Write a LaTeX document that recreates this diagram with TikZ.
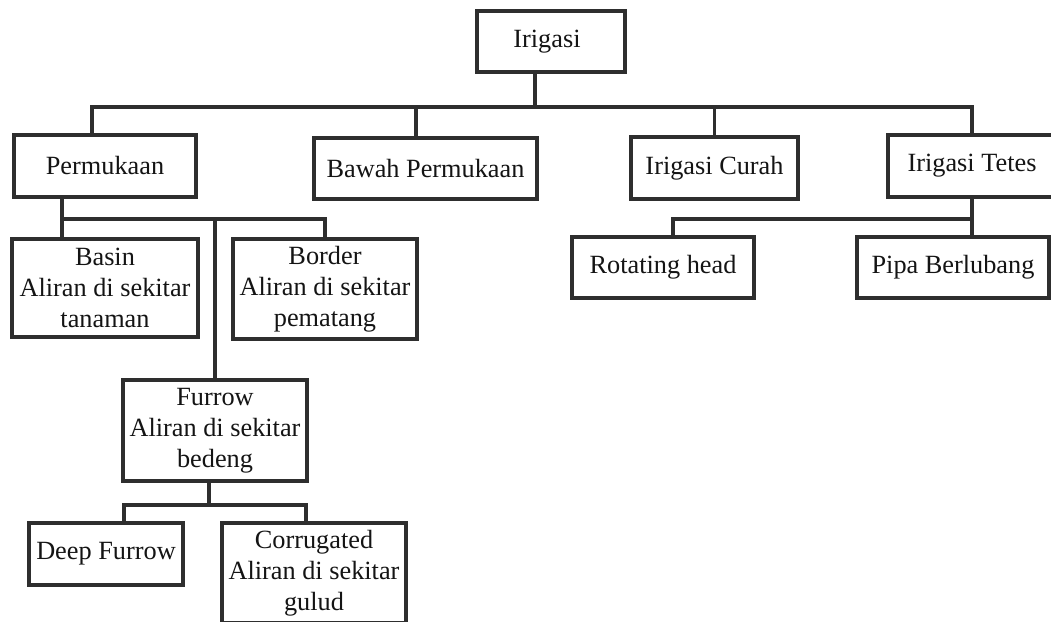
\documentclass[tikz,border=0pt]{standalone}
\usepackage{fontspec}
\setmainfont{Liberation Serif}
\tikzset{
  box/.style={draw=black!82, line width=3.2pt, inner sep=0pt, align=center,
    font=\fontsize{26.3}{31}\selectfont, text=black!92},
  link/.style={draw=black!82, line width=3.2pt, line join=miter}
}
\begin{document}
\begin{tikzpicture}[x=1pt,y=-1pt]
\useasboundingbox (0,0) rectangle (1051,621);
\fill[white] (0,0) rectangle (1051,621);
% level 0
\node[box, minimum width=148pt, minimum height=61pt] (irig) at (551,41.5) {Irigasi\hspace{8pt}};
% level 1
\node[box, minimum width=182pt, minimum height=62pt] (perm) at (105,166) {Permukaan};
\node[box, minimum width=223pt, minimum height=61pt] (bawah) at (425.5,168.5) {Bawah Permukaan};
\node[box, minimum width=167pt, minimum height=62pt] (curah) at (714.5,168) {Irigasi Curah};
\node[box, minimum width=168pt, minimum height=62pt] (tetes) at (972,166) {Irigasi Tetes};
% level 2
\node[box, minimum width=186pt, minimum height=98pt] (basin) at (105,288) {Basin\\Aliran di sekitar\\tanaman};
\node[box, minimum width=184pt, minimum height=100pt] (border) at (325,289) {Border\\Aliran di sekitar\\pematang};
\node[box, minimum width=182pt, minimum height=61pt] (rot) at (663,267.5) {Rotating head};
\node[box, minimum width=192pt, minimum height=61pt] (pipa) at (953,267.5) {Pipa Berlubang};
% level 3
\node[box, minimum width=184pt, minimum height=101pt] (furrow) at (215,430.5) {Furrow\\Aliran di sekitar\\bedeng};
% level 4
\node[box, minimum width=154pt, minimum height=62pt] (deep) at (106,554) {Deep Furrow};
\node[box, minimum width=184pt, minimum height=100pt] (corr) at (314,573) {Corrugated\\Aliran di sekitar\\gulud};
% junctions
\coordinate (jA) at (535,107);
\coordinate (jB) at (62,219);
\coordinate (jC) at (972,219);
\coordinate (jD) at (209,505);
% connectors
\draw[link] (irig.south -| jA) -- (jA);
\draw[link] ([xshift=-13pt]perm.north) |- (jA) -| (tetes.north);
\draw[link] ([xshift=-9.5pt]bawah.north) -- ([xshift=-9.5pt]bawah.north |- jA);
\draw[link] (curah.north) -- (curah.north |- jA);
\draw[link] ([xshift=-43pt]perm.south) -- ([xshift=-43pt]basin.north);
\draw[link] (jB) -| (border.north);
\draw[link] (furrow.north) -- (furrow.north |- jB);
\draw[link] (tetes.south) -- ([xshift=19pt]pipa.north);
\draw[link] ([xshift=10pt]rot.north) |- (jC);
\draw[link] ([xshift=-6pt]furrow.south) -- (jD);
\draw[link] ([xshift=18pt]deep.north) |- ([xshift=-8pt]corr.north |- jD) -- ([xshift=-8pt]corr.north);
\end{tikzpicture}
\end{document}
